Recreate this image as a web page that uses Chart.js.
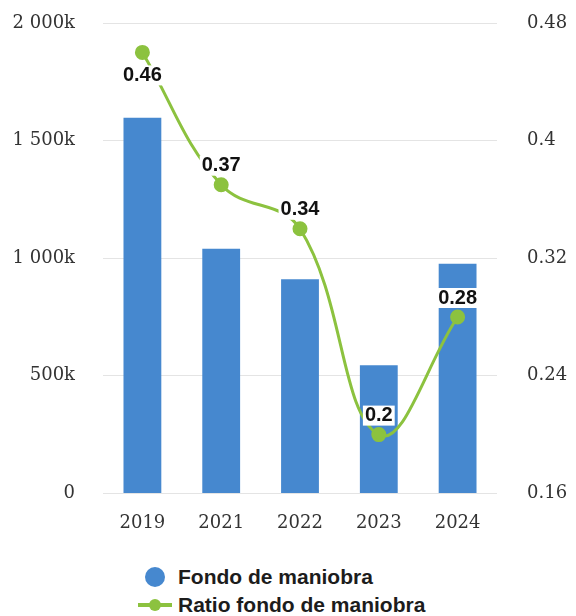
<!DOCTYPE html>
<html>
<head>
<meta charset="utf-8">
<script src="https://cdn.jsdelivr.net/npm/chart.js@4/dist/chart.umd.min.js"></script>
<style>
  body { margin: 0; background: #fff; }
  #wrap { position: relative; width: 576px; height: 616px; }
  #legend { position: absolute; left: 138px; top: 563px; font: bold 21px "Liberation Sans", Arial, sans-serif; color: #1c1c1c; }
  .item { display: flex; align-items: center; height: 28px; }
  .mark { position: relative; width: 34px; height: 20px; margin-right: 6px; }
  .dot { position: absolute; left: 7px; top: 0; width: 20px; height: 20px; border-radius: 50%; background: #4688cf; }
  .bar { position: absolute; left: 0; top: 8px; width: 34px; height: 4px; background: #8cc23f; }
  .pt { position: absolute; left: 11px; top: 4px; width: 12px; height: 12px; border-radius: 50%; background: #8cc23f; }
</style>
</head>
<body>
<div id="wrap">
  <canvas id="chart" width="576" height="545"></canvas>
  <div id="legend">
    <div class="item"><span class="mark"><span class="dot"></span></span>Fondo de maniobra</div>
    <div class="item"><span class="mark"><span class="bar"></span><span class="pt"></span></span>Ratio fondo de maniobra</div>
  </div>
</div>
<script>
const years = ['2019', '2021', '2022', '2023', '2024'];
const fondo = [1597000, 1040000, 910000, 545000, 976000];
const ratio = [0.46, 0.37, 0.34, 0.2, 0.28];
const fondoTicks = [0, 500000, 1000000, 1500000, 2000000];
const ratioTicks = [0.16, 0.24, 0.32, 0.4, 0.48];

const barColor = '#4688cf';
const lineColor = '#8cc23f';
const tickFont = { family: '"DejaVu Serif", serif', size: 18 };

// etiquetas de valor sobre los puntos de la línea
const pointLabels = {
  id: 'pointLabels',
  afterDatasetsDraw(chart) {
    const ctx = chart.ctx;
    const meta = chart.getDatasetMeta(0);
    const top = chart.chartArea.top;
    ctx.save();
    ctx.font = 'bold 20px "Liberation Sans", Arial, sans-serif';
    ctx.textAlign = 'center';
    ctx.textBaseline = 'middle';
    meta.data.forEach((pt, i) => {
      const txt = String(ratio[i]);
      let y = pt.y - 19;
      if (y - 12 < top) y = pt.y + 23;
      const w = ctx.measureText(txt).width;
      ctx.fillStyle = '#fff';
      ctx.fillRect(pt.x - w / 2 - 2, y - 10, w + 4, 20);
      ctx.fillStyle = '#111';
      ctx.fillText(txt, pt.x, y);
    });
    ctx.restore();
  }
};

// ancho fijo de los ejes y y menos hueco arriba
function fitY(width) {
  return (axis) => {
    axis.width = width;
    axis.paddingTop = 23;
    axis.paddingBottom = 0;
  };
}

new Chart(document.getElementById('chart'), {
  data: {
    labels: years,
    datasets: [
      {
        type: 'line',
        label: 'Ratio fondo de maniobra',
        data: ratio,
        yAxisID: 'y2',
        borderColor: lineColor,
        backgroundColor: lineColor,
        borderWidth: 3,
        tension: 0.4,
        pointRadius: 6,
        order: 0,
      },
      {
        type: 'bar',
        label: 'Fondo de maniobra',
        data: fondo,
        yAxisID: 'y',
        backgroundColor: barColor,
        categoryPercentage: 0.8,
        barPercentage: 0.6,
        order: 1,
      },
    ],
  },
  options: {
    responsive: false,
    animation: false,
    devicePixelRatio: 1,
    layout: { padding: 0 },
    plugins: {
      legend: { display: false },
      tooltip: { enabled: false },
    },
    scales: {
      x: {
        grid: { display: false },
        border: { display: false },
        ticks: { font: tickFont, color: '#333', padding: 11 },
      },
      y: {
        position: 'left',
        min: 0,
        max: 2000000,
        afterBuildTicks: (axis) => { axis.ticks = fondoTicks.map((v) => ({ value: v })); },
        afterFit: fitY(103),
        grid: { color: '#e4e4e4', drawTicks: false },
        border: { display: false },
        ticks: {
          font: tickFont,
          color: '#333',
          padding: 28,
          callback: (v) => v === 0 ? '0' : (v / 1000).toLocaleString('fr-FR').replace(/\s/g, ' ') + 'k',
        },
      },
      y2: {
        position: 'right',
        min: 0.16,
        max: 0.48,
        afterBuildTicks: (axis) => { axis.ticks = ratioTicks.map((v) => ({ value: v })); },
        afterFit: fitY(79),
        grid: { drawOnChartArea: false, drawTicks: false },
        border: { display: false },
        ticks: {
          font: tickFont,
          color: '#333',
          padding: 30,
          callback: (v) => String(Number(v.toFixed(2))),
        },
      },
    },
  },
  plugins: [pointLabels],
});
</script>
</body>
</html>
